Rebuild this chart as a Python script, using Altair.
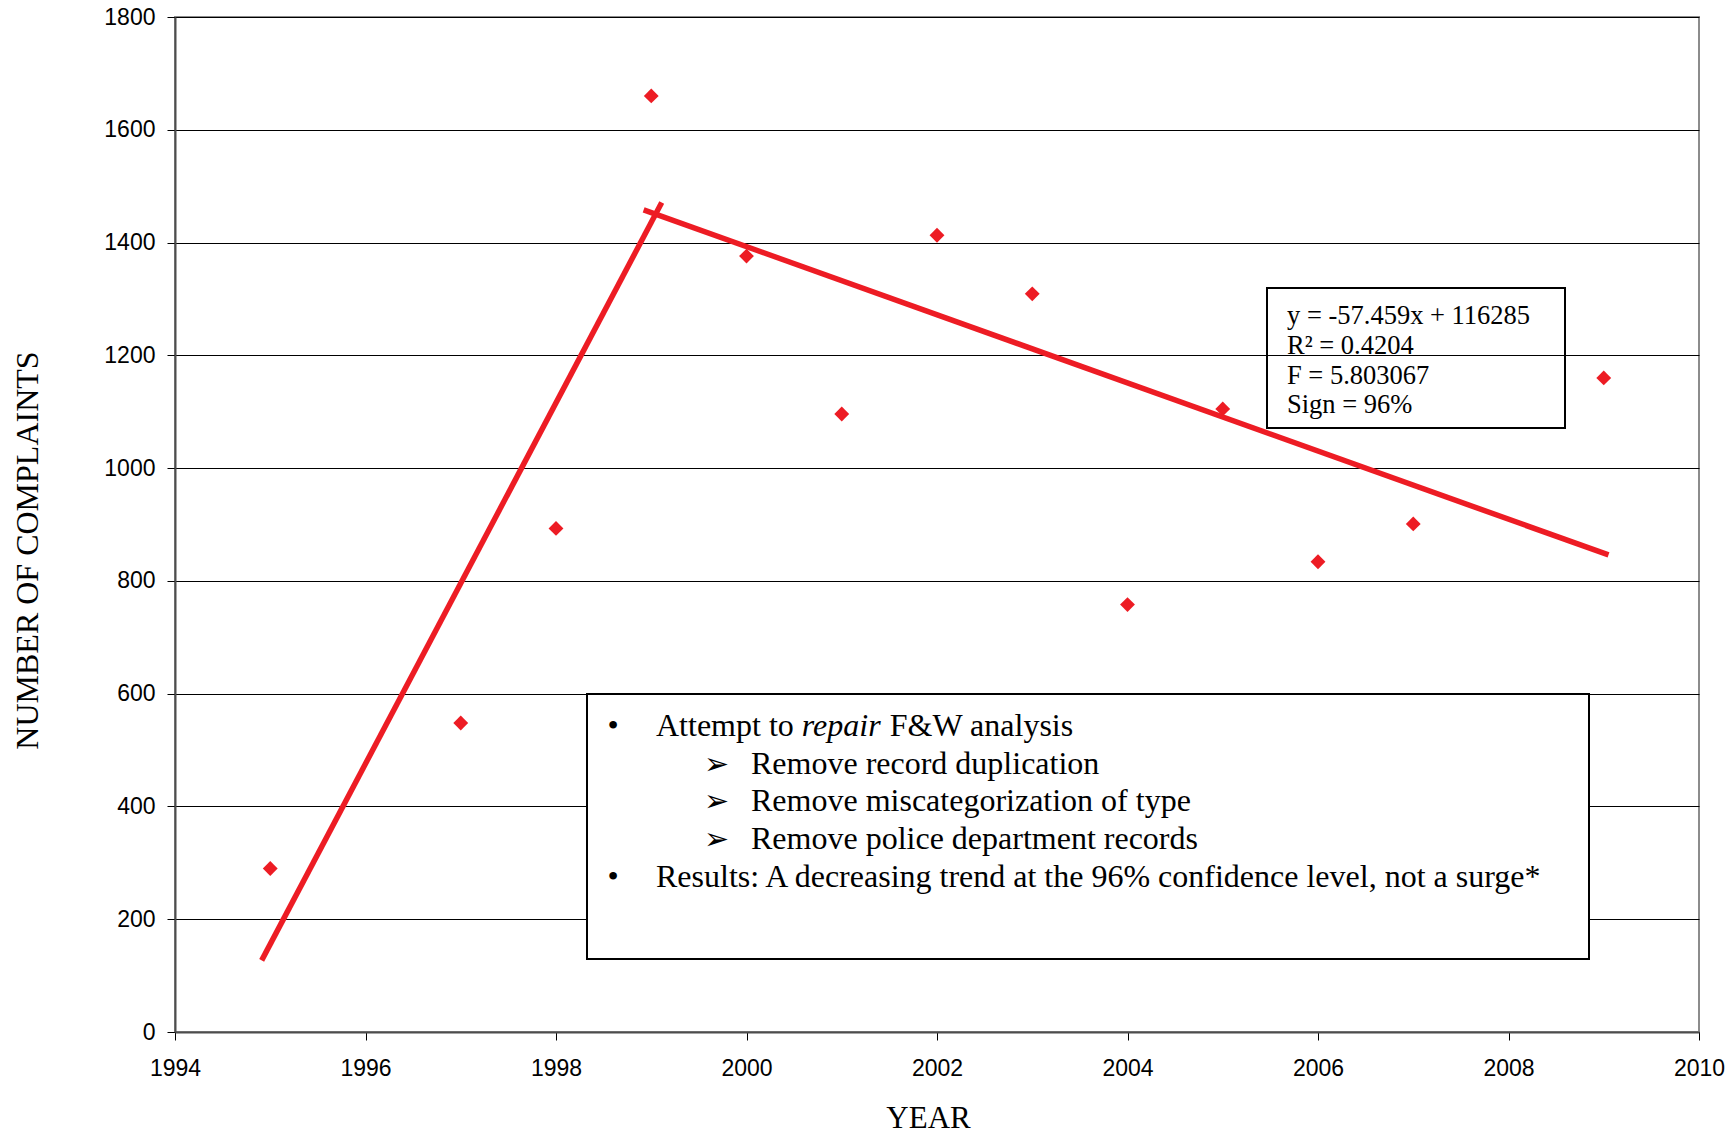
import altair as alt
import pandas as pd

# ---------------- data ----------------
years = [1995, 1997, 1998, 1999, 2000, 2001, 2002, 2003, 2004, 2005, 2006, 2007, 2009]
complaints = [290, 548, 893, 1660, 1376, 1096, 1413, 1309, 758, 1105, 834, 901, 1160]

trend_segment = ["rise", "rise", "fall", "fall"]
trend_year = [1994.91, 1999.11, 1998.92, 2009.05]
trend_value = [127, 1471, 1458, 846]

x_ticks = [1994, 1996, 1998, 2000, 2002, 2004, 2006, 2008, 2010]
y_ticks = [0, 200, 400, 600, 800, 1000, 1200, 1400, 1600, 1800]

equation_lines = ["y = -57.459x + 116285", "R\u00b2 = 0.4204", "F = 5.803067", "Sign = 96%"]
bullet_parts = ["Attempt to", "repair", "F&W analysis"]
sub_items = ["Remove record duplication", "Remove miscategorization of type",
             "Remove police department records"]
result_text = "Results: A decreasing trend at the 96% confidence level, not a surge*"

# ---------------- layout ----------------
W, H = 1524, 1015
X0, X1 = 1994, 2010
Y0, Y1 = 0, 1800
RED = "#ED1C24"
SERIF = "Liberation Serif"
BOX_FS = 32
EQ_FS = 26.5


def xd(px):
    """plot-area pixel -> year, through the same linear scale as the chart"""
    return X0 + px / W * (X1 - X0)


def yd(py):
    """plot-area pixel (from top) -> complaints value"""
    return Y1 - py / H * (Y1 - Y0)


xscale = alt.Scale(domain=[X0, X1], nice=False, zero=False)
yscale = alt.Scale(domain=[Y0, Y1], nice=False, zero=True)

pts = pd.DataFrame({"year": years, "complaints": complaints})
trend = pd.DataFrame({"seg": trend_segment, "year": trend_year, "complaints": trend_value})

X = lambda f="year": alt.X(f"{f}:Q", scale=xscale,
                           axis=alt.Axis(values=x_ticks, format="d", title="YEAR", grid=False))
Y = lambda f="complaints": alt.Y(f"{f}:Q", scale=yscale,
                                 axis=alt.Axis(values=y_ticks, format="d",
                                               title="NUMBER OF COMPLAINTS", grid=True))

points = alt.Chart(pts).mark_point(shape="diamond", filled=True, size=220, color=RED, opacity=1).encode(
    x=X(), y=Y())

lines = alt.Chart(trend).mark_line(color=RED, strokeWidth=5.5, strokeCap="butt").encode(
    x=X(), y=Y(), detail="seg:N")

# annotation boxes
boxes = pd.DataFrame({
    "year": [xd(1092), xd(412)], "year2": [xd(1390), xd(1414)],
    "complaints": [yd(271), yd(677)], "complaints2": [yd(411), yd(942)],
    "fill": ["transparent", "white"],
})
box_layer = alt.Chart(boxes).mark_rect(stroke="black", strokeWidth=2).encode(
    x=X(), x2="year2:Q", y=Y(), y2="complaints2:Q",
    fill=alt.Fill("fill:N", scale=None),
)


def text_layer(df, **kw):
    return alt.Chart(df).mark_text(baseline="alphabetic", color="black", **kw).encode(
        x=X(), y=Y(), text="text:N")


# equation text
eq = pd.DataFrame({"text": equation_lines, "year": [xd(1112)] * 4,
                   "complaints": [yd(v) for v in [307, 337, 367, 396]]})
eq_layer = text_layer(eq, font=SERIF, fontSize=EQ_FS, align="left")

# big box text
base_x = 481
w_attempt = 4.556 * BOX_FS
w_repair = 2.5 * BOX_FS
w_space = 0.25 * BOX_FS
line_y = [719, 756.5, 794, 831.5, 870]

reg = pd.DataFrame({
    "text": [bullet_parts[0], bullet_parts[2]] + sub_items + [result_text],
    "year": [xd(base_x), xd(base_x + w_attempt + w_repair + w_space), xd(576), xd(576), xd(576), xd(base_x)],
    "complaints": [yd(line_y[0]), yd(line_y[0]), yd(line_y[1]), yd(line_y[2]), yd(line_y[3]), yd(line_y[4])],
})
reg_layer = text_layer(reg, font=SERIF, fontSize=BOX_FS, align="left")

ital = pd.DataFrame({"text": [bullet_parts[1]], "year": [xd(base_x + w_attempt)],
                     "complaints": [yd(line_y[0])]})
ital_layer = text_layer(ital, font=SERIF, fontSize=BOX_FS, fontStyle="italic", align="left")

bul = pd.DataFrame({"text": ["\u2022", "\u2022"], "year": [xd(438), xd(438)],
                    "complaints": [yd(line_y[0]), yd(line_y[4])]})
bul_layer = text_layer(bul, font=SERIF, fontSize=BOX_FS, align="center")

arr = pd.DataFrame({"text": ["\u27a2"] * 3, "year": [xd(529)] * 3,
                    "complaints": [yd(v) for v in line_y[1:4]]})
arr_layer = text_layer(arr, font="DejaVu Sans", fontSize=30, align="left")

chart = alt.layer(
    lines, points, box_layer, eq_layer, reg_layer, ital_layer, bul_layer, arr_layer
).properties(
    width=W, height=H,
    autosize=alt.AutoSizeParams(type="none"),
    padding={"left": 175, "top": 17, "right": 37, "bottom": 102},
    background="white",
).configure_view(
    stroke="#8c8c8c", strokeWidth=2
).configure_axis(
    domainColor="#4d4d4d", domainWidth=2,
    tickColor="black", tickSize=8, tickWidth=1,
    labelFont="Liberation Sans", labelFontSize=23, labelColor="black",
    labelFlush=False, labelOverlap=False,
    titleFont=SERIF, titleFontSize=32, titleFontWeight="normal", titleColor="black",
    gridColor="black", gridWidth=1, gridOpacity=1,
).configure_axisX(
    labelPadding=17, titleX=753, titleY=86, titleBaseline="middle", titleAlign="center",
    titleFontSize=31,
).configure_axisY(
    labelPadding=12, titleX=-148, titleY=533, titleBaseline="middle", titleAlign="center", titleAngle=270,
)

chart.save("out.html", embed_options={"renderer": "svg", "actions": False})
